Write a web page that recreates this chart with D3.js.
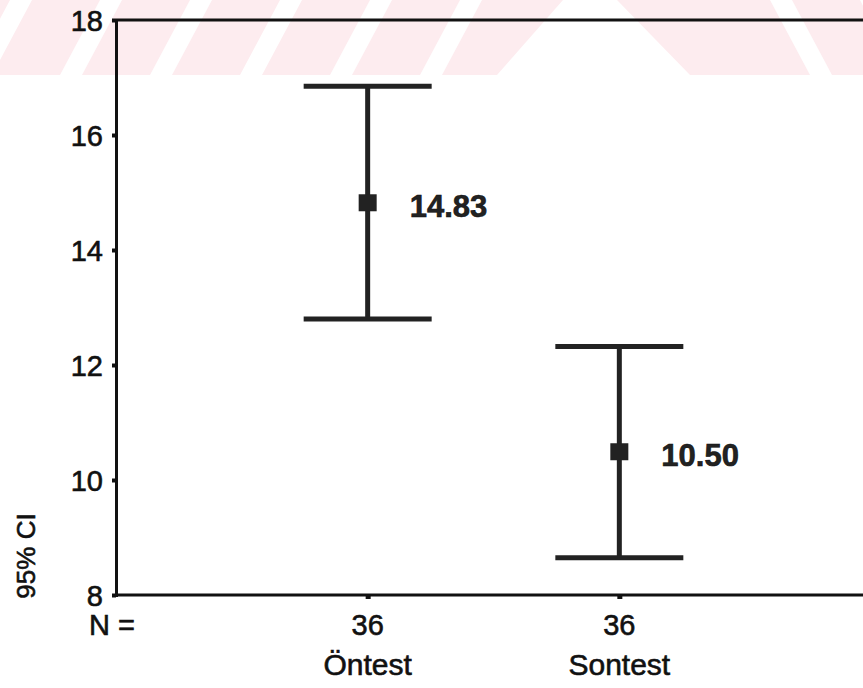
<!DOCTYPE html>
<html>
<head>
<meta charset="utf-8">
<script src="https://cdn.jsdelivr.net/npm/d3@7"></script>
<style>
  body { margin: 0; background: #fff; }
  svg { display: block; font-family: "Liberation Sans", Arial, sans-serif; }
  svg text { stroke: #111; stroke-width: 0.6px; }
</style>
</head>
<body>
<div id="chart"></div>
<script>
const width = 863;
const height = 688;

// data
const groups = ["Öntest", "Sontest"];
const counts = [36, 36];
const means = [14.83, 10.50];
const lower = [12.80, 8.65];
const upper = [16.85, 12.32];
const yTicks = [8, 10, 12, 14, 16, 18];

const margin = { top: 20, left: 116, bottom: 93 };

const svg = d3.select("#chart").append("svg")
    .attr("width", width)
    .attr("height", height);

// faint watermark band at the top
const band = svg.append("g");
band.append("rect").attr("x", 0).attr("y", 0).attr("width", width).attr("height", 75).attr("fill", "#fdecef");
const slashX = [-30, 60, 150, 240, 330, 420];
slashX.forEach(x => {
    band.append("path")
        .attr("d", `M${x},75 L${x + 22},75 L${x + 62},0 L${x + 40},0 Z`)
        .attr("fill", "#fff");
});
band.append("path").attr("d", "M497,75 L690,75 L617,0 L563,0 Z").attr("fill", "#fff");
const backX = [770, 860];
backX.forEach(x => {
    band.append("path")
        .attr("d", `M${x},0 L${x + 22},0 L${x + 62},75 L${x + 40},75 Z`)
        .attr("fill", "#fff");
});

const y = d3.scaleLinear().domain([8, 18]).range([height - margin.bottom, margin.top]);
const x = d3.scalePoint().domain(groups).range([margin.left, 871]).padding(1);

// frame
svg.append("line").attr("x1", margin.left).attr("x2", width).attr("y1", y(18)).attr("y2", y(18))
    .attr("stroke", "#111").attr("stroke-width", 3);
svg.append("line").attr("x1", margin.left).attr("x2", width).attr("y1", y(8)).attr("y2", y(8))
    .attr("stroke", "#111").attr("stroke-width", 3);

// y axis
const yAxis = svg.append("g")
    .attr("transform", `translate(${margin.left},0)`)
    .call(d3.axisLeft(y).tickValues(yTicks).tickSize(4).tickPadding(9));
yAxis.select(".domain").attr("stroke", "#111").attr("stroke-width", 3);
yAxis.selectAll(".tick line").attr("stroke", "#111").attr("stroke-width", 4);
yAxis.selectAll(".tick text").attr("font-size", 29).attr("fill", "#111")
    .attr("font-family", "Liberation Sans, Arial, sans-serif").attr("dy", "0.36em");

// x ticks
svg.selectAll(".xtick").data(groups).enter().append("rect")
    .attr("x", d => x(d) - 2).attr("y", y(8)).attr("width", 5).attr("height", 4).attr("fill", "#111");

// N labels
svg.append("text").attr("x", 112).attr("y", 635).attr("text-anchor", "middle")
    .attr("font-size", 29).attr("fill", "#111").text("N =");
svg.selectAll(".ncount").data(counts).enter().append("text")
    .attr("x", (d, i) => x(groups[i])).attr("y", 635).attr("text-anchor", "middle")
    .attr("font-size", 29).attr("fill", "#111").text(d => d);
svg.selectAll(".gname").data(groups).enter().append("text")
    .attr("x", d => x(d)).attr("y", 675).attr("text-anchor", "middle")
    .attr("font-size", 30).attr("fill", "#111").text(d => d);

// y title
svg.append("text")
    .attr("transform", `translate(35,556) rotate(-90)`)
    .attr("text-anchor", "middle").attr("font-size", 26).attr("fill", "#111")
    .text("95% CI");

// error bars
const capHalf = 64;
const bars = svg.selectAll(".bar").data(groups).enter().append("g");
bars.append("line")
    .attr("x1", d => x(d)).attr("x2", d => x(d))
    .attr("y1", (d, i) => y(upper[i])).attr("y2", (d, i) => y(lower[i]))
    .attr("stroke", "#222").attr("stroke-width", 5);
bars.append("line")
    .attr("x1", d => x(d) - capHalf).attr("x2", d => x(d) + capHalf)
    .attr("y1", (d, i) => y(upper[i])).attr("y2", (d, i) => y(upper[i]))
    .attr("stroke", "#222").attr("stroke-width", 5);
bars.append("line")
    .attr("x1", d => x(d) - capHalf).attr("x2", d => x(d) + capHalf)
    .attr("y1", (d, i) => y(lower[i])).attr("y2", (d, i) => y(lower[i]))
    .attr("stroke", "#222").attr("stroke-width", 5);
bars.append("rect")
    .attr("x", d => x(d) - 9).attr("y", (d, i) => y(means[i]) - 8)
    .attr("width", 18).attr("height", 17).attr("fill", "#222");
bars.append("text")
    .attr("x", d => x(d) + 42).attr("y", (d, i) => y(means[i]) + 15)
    .attr("font-size", 31).attr("font-weight", "bold").attr("fill", "#222")
    .text((d, i) => means[i].toFixed(2));
</script>
</body>
</html>
